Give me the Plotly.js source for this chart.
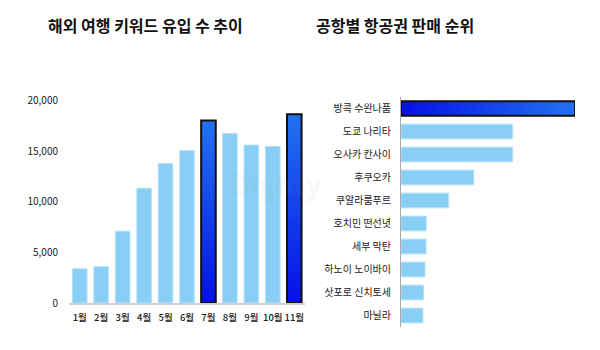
<!DOCTYPE html>
<html>
<head>
<meta charset="utf-8">
<script src="https://cdn.plot.ly/plotly-3.0.1.min.js"></script>
<style>
  html, body { margin: 0; padding: 0; background: #fff; }
  #chart { width: 600px; height: 350px; }
</style>
</head>
<body>
<div id="chart"></div>
<script>
// ---- data ----
const months = ['1월', '2월', '3월', '4월', '5월', '6월', '7월', '8월', '9월', '10월', '11월'];
const keywordCounts = [3380, 3590, 7100, 11350, 13800, 15060, 18050, 16770, 15620, 15490, 18650];
const highlightMonths = ['7월', '11월'];

const airports = ['방콕 수완나품', '도쿄 나리타', '오사카 칸사이', '후쿠오카', '쿠알라룸푸르',
                  '호치민 떤선녓', '세부 막탄', '하노이 노이바이', '삿포로 신치토세', '마닐라'];
const salesIndex = [100, 64.2, 64.2, 41.8, 27.4, 14.5, 14.4, 13.8, 13.0, 12.6];
const highlightAirports = ['방콕 수완나품'];

const leftTitle = '해외 여행 키워드 유입 수 추이';
const rightTitle = '공항별 항공권 판매 순위';

// ---- styles ----
const LIGHT = '#89CFF5';
const LIGHT_EDGE = '#B4E1FA';
const DARK = '#1040EC';
const FONT = '"Noto Sans CJK KR", "Noto Sans", sans-serif';

const leftHi = months.map(m => highlightMonths.includes(m));
const rightHi = airports.map(a => highlightAirports.includes(a));

const traces = [
  {
    type: 'bar', x: months, y: keywordCounts, xaxis: 'x', yaxis: 'y',
    width: 0.68,
    marker: {
      color: leftHi.map(h => h ? DARK : LIGHT),
      line: { color: leftHi.map(h => h ? '#111' : LIGHT_EDGE), width: leftHi.map(h => h ? 2 : 1) }
    },
    hoverinfo: 'skip'
  },
  {
    type: 'bar', orientation: 'h', y: airports, x: salesIndex, xaxis: 'x2', yaxis: 'y2',
    width: 0.64,
    marker: {
      color: rightHi.map(h => h ? DARK : LIGHT),
      line: { color: rightHi.map(h => h ? '#111' : LIGHT_EDGE), width: rightHi.map(h => h ? 2 : 1) }
    },
    hoverinfo: 'skip'
  }
];

const layout = {
  width: 600, height: 350,
  margin: { l: 0, r: 0, t: 0, b: 0 },
  paper_bgcolor: '#fff', plot_bgcolor: 'rgba(0,0,0,0)',
  showlegend: false,
  font: { family: FONT, color: '#222', size: 10 },
  xaxis: {
    domain: [69 / 600, 305 / 600], anchor: 'y',
    type: 'category', tickangle: 0,
    showline: true, linecolor: '#CFCFCF', linewidth: 2,
    showgrid: false, zeroline: false, ticks: '',
    tickfont: { size: 9.5, color: '#222', family: FONT, weight: 500 },
    ticklabelstandoff: 5
  },
  yaxis: {
    domain: [47 / 350, (350 - 100.7) / 350], anchor: 'x',
    range: [0, 20000], tickvals: [0, 5000, 10000, 15000, 20000],
    tickformat: ',d',
    showline: false, showgrid: false, zeroline: false, ticks: '',
    tickfont: { size: 10, color: '#222', family: FONT },
    ticklabelstandoff: 10
  },
  xaxis2: {
    domain: [401 / 600, 575 / 600], anchor: 'y2',
    range: [0, 100],
    showline: false, showgrid: false, zeroline: false, showticklabels: false, ticks: ''
  },
  yaxis2: {
    domain: [(350 - 327) / 350, (350 - 97) / 350], anchor: 'x2',
    type: 'category', autorange: 'reversed',
    showline: true, linecolor: '#AAAAAA', linewidth: 1,
    showgrid: false, zeroline: false, ticks: '',
    tickfont: { size: 10, color: '#222', family: FONT },
    ticklabelstandoff: 7
  },
  annotations: [
    { text: leftTitle, xref: 'paper', yref: 'paper', x: 145 / 600, y: (350 - 25) / 350,
      xanchor: 'center', yanchor: 'middle', showarrow: false,
      font: { family: FONT, size: 16, color: '#111', weight: 700 } },
    { text: rightTitle, xref: 'paper', yref: 'paper', x: 395 / 600, y: (350 - 25) / 350,
      xanchor: 'center', yanchor: 'middle', showarrow: false,
      font: { family: FONT, size: 16, color: '#111', weight: 700 } },
    { text: 'Dighty', xref: 'paper', yref: 'paper', x: 228 / 600, y: (350 - 184) / 350,
      xanchor: 'left', yanchor: 'middle', showarrow: false,
      font: { family: '"Open Sans", sans-serif', size: 28, color: 'rgba(150,150,150,0.07)', weight: 700 } }
  ]
};

Plotly.newPlot('chart', traces, layout, { staticPlot: true, displayModeBar: false }).then(gd => {
  const svg = gd.querySelector('svg.main-svg');
  const NS = 'http://www.w3.org/2000/svg';
  let defs = svg.querySelector('defs');
  if (!defs) { defs = document.createElementNS(NS, 'defs'); svg.insertBefore(defs, svg.firstChild); }
  function grad(id, x2, y2, stops) {
    const g = document.createElementNS(NS, 'linearGradient');
    g.setAttribute('id', id);
    g.setAttribute('x1', '0'); g.setAttribute('y1', '0');
    g.setAttribute('x2', x2); g.setAttribute('y2', y2);
    stops.forEach(([o, c]) => {
      const s = document.createElementNS(NS, 'stop');
      s.setAttribute('offset', o); s.setAttribute('stop-color', c);
      g.appendChild(s);
    });
    defs.appendChild(g);
  }
  grad('gradV', '0', '1', [['0', '#2272F0'], ['1', '#0510E8']]);
  grad('gradH', '1', '0', [['0', '#0510E8'], ['1', '#2272F0']]);
  const barTraces = gd.querySelectorAll('.barlayer .trace');
  const leftPts = barTraces[0].querySelectorAll('.point path');
  leftHi.forEach((h, i) => { if (h && leftPts[i]) leftPts[i].style.fill = 'url(#gradV)'; });
  const rightPts = barTraces[1].querySelectorAll('.point path');
  rightHi.forEach((h, i) => { if (h && rightPts[i]) rightPts[i].style.fill = 'url(#gradH)'; });
});
</script>
</body>
</html>
